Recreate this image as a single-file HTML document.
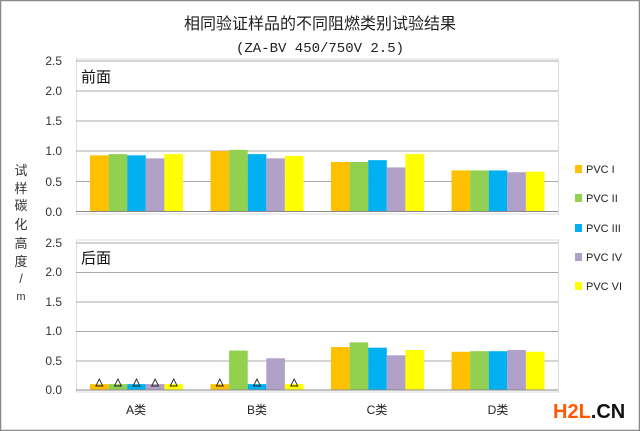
<!DOCTYPE html>
<html><head><meta charset="utf-8"><style>
body{margin:0;background:#fff}
svg{display:block}
text{font-family:"Liberation Sans","Noto Sans CJK SC",sans-serif}
</style></head><body>
<svg width="640" height="431" viewBox="0 0 640 431" xmlns="http://www.w3.org/2000/svg">
<rect x="0.5" y="0.5" width="639" height="430" fill="#fff" stroke="#8a8a8a" stroke-width="1.5"/>
<text x="320" y="29" font-size="16" text-anchor="middle" fill="#222">相同验证样品的不同阻燃类别试验结果</text>
<text x="320" y="52" font-size="14" text-anchor="middle" fill="#222" style="font-family:'Liberation Mono',monospace">(ZA-BV 450/750V 2.5)</text>
<g font-size="12" fill="#333" text-anchor="end">
<text x="62" y="65">2.5</text><text x="62" y="95">2.0</text><text x="62" y="125">1.5</text><text x="62" y="155">1.0</text><text x="62" y="186">0.5</text><text x="62" y="216">0.0</text>
<text x="62" y="247">2.5</text><text x="62" y="276">2.0</text><text x="62" y="306">1.5</text><text x="62" y="335">1.0</text><text x="62" y="365">0.5</text><text x="62" y="394">0.0</text>
</g>
<g font-size="13" fill="#333" text-anchor="middle">
<text x="21" y="175">试</text><text x="21" y="193">样</text><text x="21" y="210">碳</text><text x="21" y="229">化</text><text x="21" y="248">高</text><text x="21" y="266">度</text><text x="21" y="283">/</text><text x="21" y="300" font-size="11">m</text>
</g>
<rect x="76.5" y="59" width="482" height="155" fill="none" stroke="#ddd"/>
<rect x="76.5" y="240" width="482" height="152" fill="none" stroke="#ddd"/>
<g stroke="#aaa" stroke-width="1">
<line x1="76" y1="61" x2="558" y2="61"/><line x1="76" y1="91" x2="558" y2="91"/><line x1="76" y1="121" x2="558" y2="121"/><line x1="76" y1="151" x2="558" y2="151"/><line x1="76" y1="181.5" x2="558" y2="181.5"/>
<line x1="76" y1="243" x2="558" y2="243"/><line x1="76" y1="272.5" x2="558" y2="272.5"/><line x1="76" y1="302" x2="558" y2="302"/><line x1="76" y1="331.5" x2="558" y2="331.5"/><line x1="76" y1="361" x2="558" y2="361"/>
</g>
<text x="81" y="82" font-size="15" fill="#111">前面</text>
<text x="81" y="263" font-size="15" fill="#111">后面</text>
<g id="bars"></g>
<line x1="76" y1="211.5" x2="558" y2="211.5" stroke="#888"/>
<line x1="76" y1="390" x2="558" y2="390" stroke="#888"/>
<g font-size="12" fill="#222" text-anchor="middle">
<text x="136" y="414">A类</text><text x="257" y="414">B类</text><text x="377" y="414">C类</text><text x="498" y="414">D类</text>
</g>
<g font-size="11" fill="#222">
<rect x="575" y="165" width="7" height="8" fill="#FFC000"/><text x="586" y="173">PVC I</text>
<rect x="575" y="194" width="7" height="8" fill="#92D050"/><text x="586" y="202">PVC II</text>
<rect x="575" y="224" width="7" height="8" fill="#00B0F0"/><text x="586" y="232">PVC III</text>
<rect x="575" y="253" width="7" height="8" fill="#B1A0C7"/><text x="586" y="261">PVC IV</text>
<rect x="575" y="282" width="7" height="8" fill="#FFFF00"/><text x="586" y="290">PVC VI</text>
</g>
<text x="553" y="418" font-size="20" font-weight="bold" fill="#FF5A00">H2L<tspan fill="#111">.CN</tspan></text>
</svg>
<script>
(function(){
var NS="http://www.w3.org/2000/svg";
var cols=["#FFC000","#92D050","#00B0F0","#B1A0C7","#FFFF00"];
var tv=[[.93,.95,.93,.88,.95],[1.0,1.02,.95,.88,.92],[.82,.82,.85,.73,.95],[.68,.68,.68,.65,.66]];
var bv=[[.1,.1,.1,.1,.1],[.1,.67,.1,.54,.1],[.73,.81,.72,.59,.68],[.65,.66,.66,.68,.65]];
var tri=[[1,1,1,1,1],[1,0,1,0,1],[0,0,0,0,0],[0,0,0,0,0]];
var g=document.getElementById("bars");
function el(n,a){var e=document.createElementNS(NS,n);for(var k in a)e.setAttribute(k,a[k]);g.appendChild(e);}
for(var i=0;i<4;i++)for(var j=0;j<5;j++){
 var x=90+i*120.5+j*18.6;
 var h=tv[i][j]*60.4; el("rect",{x:x,y:211.5-h,width:18.6,height:h,fill:cols[j]});
 var h2=bv[i][j]*58.8; el("rect",{x:x,y:390-h2,width:18.6,height:h2,fill:cols[j]});
 if(tri[i][j]){var cx=x+9.3;el("polygon",{points:(cx-3.5)+",386 "+(cx+3.5)+",386 "+cx+",379",fill:"none",stroke:"#222","stroke-width":"0.9"});}
}
})();
</script>
</body></html>
